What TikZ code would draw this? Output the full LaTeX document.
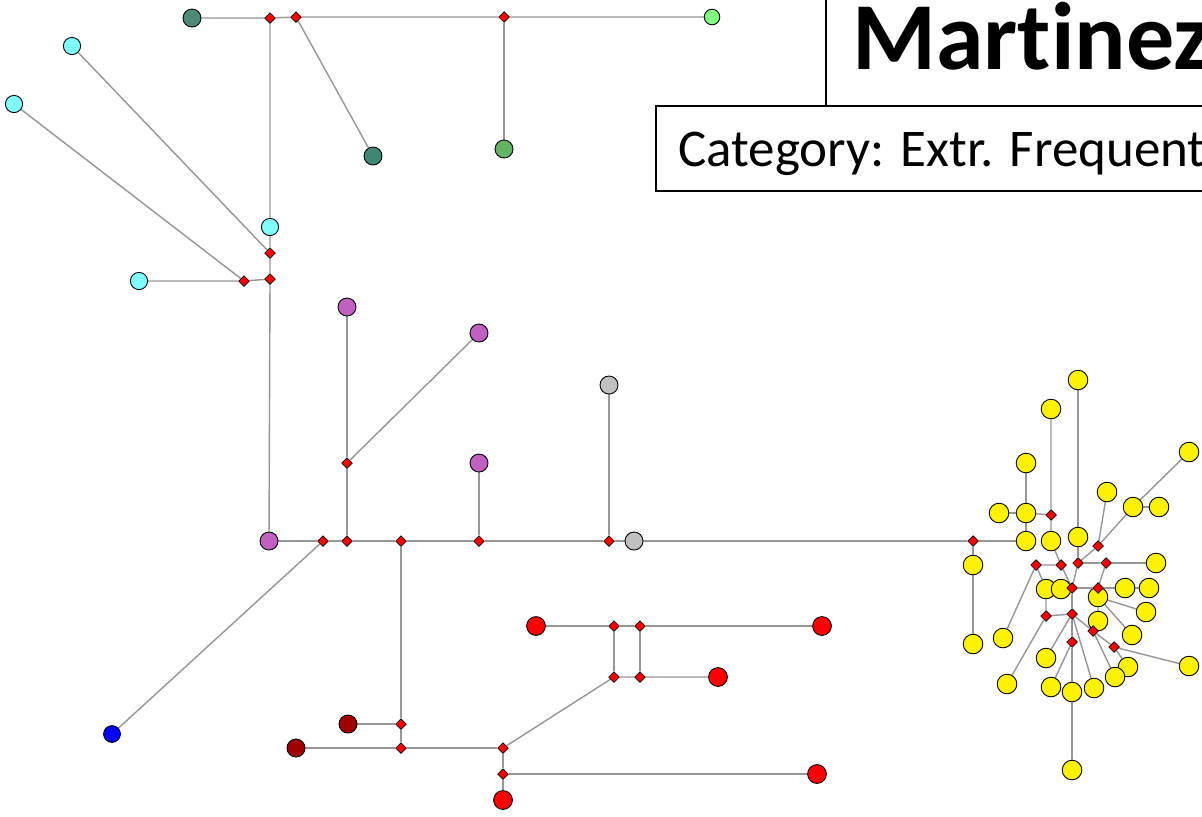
\documentclass[tikz,border=0pt]{standalone}
\usepackage{fontspec}
\setmainfont{Carlito}[Ligatures={NoCommon}]
\usetikzlibrary{shapes.geometric,backgrounds}

\definecolor{tealA}{RGB}{78,138,120}
\definecolor{tealB}{RGB}{62,134,118}
\definecolor{greenA}{RGB}{100,180,100}
\definecolor{limeA}{RGB}{128,255,128}
\definecolor{cyanA}{RGB}{128,255,255}
\definecolor{purpleA}{RGB}{192,96,192}
\definecolor{greyA}{RGB}{192,192,192}
\definecolor{darkredA}{RGB}{160,0,0}
\definecolor{linkgrey}{RGB}{150,150,150}

\begin{document}
\begin{tikzpicture}[x=0.5pt,y=-0.5pt]
\tikzset{
  site/.style={circle,draw=black,line width=0.45pt,inner sep=0pt,minimum size=9pt},
  jct/.style={diamond,draw=black,line width=0.35pt,fill=red,inner sep=0pt,
    minimum width=5.4pt,minimum height=5.4pt},
  link/.style={draw=linkgrey,line width=0.7pt},
  tealsite/.style={site,fill=tealA},
  tealdarksite/.style={site,fill=tealB},
  greensite/.style={site,fill=greenA},
  limesite/.style={site,fill=limeA,minimum size=7.8pt},
  cyansite/.style={site,fill=cyanA,minimum size=8.6pt},
  purplesite/.style={site,fill=purpleA},
  greysite/.style={site,fill=greyA},
  bluesite/.style={site,fill=blue,minimum size=8.4pt},
  darkredsite/.style={site,fill=darkredA},
  redsite/.style={site,fill=red,minimum size=9.4pt},
  yellowsite/.style={site,fill=yellow,minimum size=9.8pt},
  framebox/.style={draw=black,line width=1pt}
}
\useasboundingbox (0,0) rectangle (1202,816);

\draw[framebox] (826,-10) rectangle (1215,106);
\draw[framebox] (656,106) rectangle (1215,191);
\node[anchor=base west,inner sep=0pt,font=\fontsize{48}{50}\selectfont\bfseries]
  (title) at (852,69) {Martinez};
\node[anchor=base west,inner sep=0pt,font=\fontsize{26.5}{28}\selectfont]
  (category) at (678,166) {Category: Extr. Frequent};

% upper left
\node[tealsite] (teal1) at (192,18) {};
\node[tealdarksite] (teal2) at (373,156) {};
\node[greensite] (green1) at (504,149) {};
\node[limesite] (lime1) at (712,17) {};
\node[cyansite] (cyan1) at (270,227) {};
\node[cyansite] (cyan2) at (72,46) {};
\node[cyansite] (cyan3) at (14,104) {};
\node[cyansite] (cyan4) at (139,281) {};
\node[jct] (j1) at (270,18) {};
\node[jct] (j2) at (296,17) {};
\node[jct] (j3) at (504,17) {};
\node[jct] (j4) at (270,253) {};
\node[jct] (j5) at (270,279) {};
\node[jct] (j6) at (244,281) {};

% main line
\node[purplesite] (purp1) at (269,541) {};
\node[purplesite] (purp2) at (347,307) {};
\node[purplesite] (purp3) at (479,333) {};
\node[purplesite] (purp4) at (479,463) {};
\node[greysite] (grey1) at (634,541) {};
\node[greysite] (grey2) at (609,385) {};
\node[bluesite] (blue1) at (112,734) {};
\node[jct] (j7) at (323,541) {};
\node[jct] (j8) at (347,541) {};
\node[jct] (j9) at (401,541) {};
\node[jct] (j10) at (479,541) {};
\node[jct] (j11) at (609,541) {};
\node[jct] (j12) at (973,541) {};
\node[jct] (j13) at (347,463) {};

% lower red group
\node[darkredsite] (dred1) at (348,724) {};
\node[darkredsite] (dred2) at (296,748) {};
\node[redsite] (red1) at (503,800) {};
\node[redsite] (red2) at (817,774) {};
\node[redsite] (red3) at (536,626) {};
\node[redsite] (red4) at (822,626) {};
\node[redsite] (red5) at (718,677) {};
\node[jct] (j14) at (401,724) {};
\node[jct] (j15) at (401,748) {};
\node[jct] (j16) at (503,748) {};
\node[jct] (j17) at (503,774) {};
\node[jct] (j18) at (614,677) {};
\node[jct] (j19) at (640,677) {};
\node[jct] (j20) at (614,626) {};
\node[jct] (j21) at (640,626) {};

% yellow cluster
\node[yellowsite] (y1) at (1078,380) {};
\node[yellowsite] (y2) at (1051,409) {};
\node[yellowsite] (y3) at (1026,463) {};
\node[yellowsite] (y4) at (1189,452) {};
\node[yellowsite] (y5) at (1107,492) {};
\node[yellowsite] (y6) at (999,513) {};
\node[yellowsite] (y7) at (1026,513) {};
\node[yellowsite] (y8) at (1133,507) {};
\node[yellowsite] (y9) at (1159,507) {};
\node[yellowsite] (y10) at (1026,541) {};
\node[yellowsite] (y11) at (1051,541) {};
\node[yellowsite] (y12) at (1078,537) {};
\node[yellowsite] (y13) at (973,565) {};
\node[yellowsite] (y14) at (1156,563) {};
\node[yellowsite] (y15) at (1046,589) {};
\node[yellowsite] (y16) at (1061,589) {};
\node[yellowsite] (y17) at (1098,597) {};
\node[yellowsite] (y18) at (1125,588) {};
\node[yellowsite] (y19) at (1149,588) {};
\node[yellowsite] (y20) at (1146,612) {};
\node[yellowsite] (y21) at (1098,621) {};
\node[yellowsite] (y22) at (1132,635) {};
\node[yellowsite] (y23) at (1003,638) {};
\node[yellowsite] (y24) at (973,644) {};
\node[yellowsite] (y25) at (1189,666) {};
\node[yellowsite] (y26) at (1046,658) {};
\node[yellowsite] (y27) at (1128,667) {};
\node[yellowsite] (y28) at (1115,677) {};
\node[yellowsite] (y29) at (1007,684) {};
\node[yellowsite] (y30) at (1051,687) {};
\node[yellowsite] (y31) at (1072,692) {};
\node[yellowsite] (y32) at (1094,688) {};
\node[yellowsite] (y33) at (1072,770) {};
\node[jct] (ka) at (1051,515) {};
\node[jct] (kb) at (1098,546) {};
\node[jct] (kc) at (1036,565) {};
\node[jct] (kd) at (1061,565) {};
\node[jct] (ke) at (1078,563) {};
\node[jct] (kf) at (1106,563) {};
\node[jct] (kg) at (1072,588) {};
\node[jct] (kh) at (1098,588) {};
\node[jct] (ki) at (1046,616) {};
\node[jct] (kj) at (1072,614) {};
\node[jct] (kk) at (1093,631) {};
\node[jct] (kl) at (1072,642) {};
\node[jct] (km) at (1114,647) {};

\begin{scope}[on background layer]
\fill[white] (0,0) rectangle (1202,816);
\draw[link] (teal1) -- (j1) -- (j2) -- (j3) -- (lime1);
\draw[link] (j2) -- (teal2);
\draw[link] (j3) -- (green1);
\draw[link] (j1) -- (cyan1) -- (j4) -- (j5) -- (purp1);
\draw[link] (j4) -- (cyan2);
\draw[link] (j6) -- (cyan3);
\draw[link] (cyan4) -- (j6) -- (j5);

\draw[link] (purp1) -- (j7) -- (j8) -- (j9) -- (j10) -- (j11) -- (grey1) -- (j12) -- (y10);
\draw[link] (j7) -- (blue1);
\draw[link] (j8) -- (j13) -- (purp2);
\draw[link] (j13) -- (purp3);
\draw[link] (j10) -- (purp4);
\draw[link] (j11) -- (grey2);

\draw[link] (j9) -- (j14) -- (j15) -- (j16) -- (j17) -- (red2);
\draw[link] (j14) -- (dred1);
\draw[link] (j15) -- (dred2);
\draw[link] (j17) -- (red1);
\draw[link] (j16) -- (j18) -- (j19) -- (red5);
\draw[link] (red3) -- (j20) -- (j21) -- (red4);
\draw[link] (j20) -- (j18);
\draw[link] (j21) -- (j19);

\draw[link] (y1) -- (y12) -- (ke);
\draw[link] (y2) -- (ka) -- (y11) -- (kd);
\draw[link] (ka) -- (y7);
\draw[link] (y3) -- (y7) -- (y10);
\draw[link] (y6) -- (y7);
\draw[link] (y4) -- (y8) -- (kb);
\draw[link] (y8) -- (y9);
\draw[link] (y5) -- (kb) -- (ke);
\draw[link] (ke) -- (kf) -- (y14);
\draw[link] (kc) -- (kd) -- (kg);
\draw[link] (ke) -- (kg);
\draw[link] (kc) -- (y15) -- (ki) -- (kj);
\draw[link] (kc) -- (y23);
\draw[link] (ki) -- (y29);
\draw[link] (kg) -- (kh) -- (y18) -- (y19);
\draw[link] (kf) -- (kh) -- (y17) -- (y21) -- (kk);
\draw[link] (y17) -- (y20);
\draw[link] (y17) -- (y22);
\draw[link] (kg) -- (kj) -- (kl) -- (y31) -- (y33);
\draw[link] (kj) -- (y26);
\draw[link] (kj) -- (y32);
\draw[link] (kj) -- (kk) -- (km) -- (y25);
\draw[link] (kk) -- (y28);
\draw[link] (km) -- (y27);
\draw[link] (kl) -- (y30);
\draw[link] (j12) -- (y13) -- (y24);
\end{scope}
\end{tikzpicture}
\end{document}
